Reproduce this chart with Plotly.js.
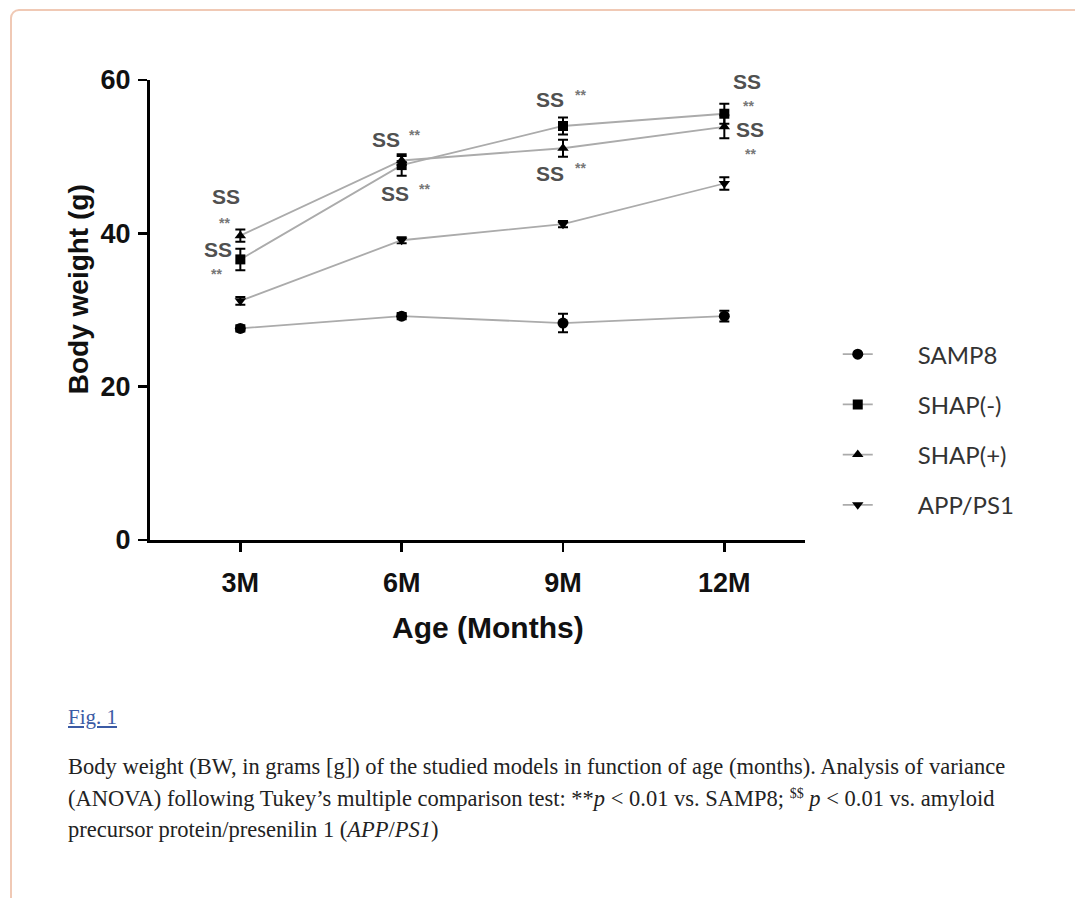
<!DOCTYPE html>
<html>
<head>
<meta charset="utf-8">
<script src="https://cdn.plot.ly/plotly-3.0.1.min.js"></script>
<style>
  html, body { margin: 0; padding: 0; background: #fff; width: 1075px; height: 898px; overflow: hidden; }
  #frame { position: absolute; left: 10px; top: 9px; width: 1100px; height: 1000px;
           border: 2px solid #f0c9b5; border-radius: 9px; box-sizing: border-box; }
  #chart { position: absolute; left: 0; top: 0; width: 1075px; height: 690px; }
  #figlink { position: absolute; left: 68px; top: 705px; font-family: "Liberation Serif", serif;
             font-size: 21px; color: #3b5ba5; text-decoration: underline; }
  #caption { position: absolute; left: 68px; top: 751px; font-family: "Liberation Serif", serif;
             font-size: 22.5px; line-height: 31.5px; color: #222; white-space: nowrap; }
  sup { font-size: 14px; line-height: 0; }
</style>
</head>
<body>
<div id="frame"></div>
<div id="chart"></div>
<div id="figlink">Fig. 1</div>
<div id="caption">Body weight (BW, in grams [g]) of the studied models in function of age (months). Analysis of variance<br>(ANOVA) following Tukey’s multiple comparison test: **<i>p</i> &lt; 0.01 vs. SAMP8; <sup>$$</sup> <i>p</i> &lt; 0.01 vs. amyloid<br>precursor protein/presenilin 1 (<i>APP</i>/<i>PS1</i>)</div>
<script>
// ---- data ----
const categories = ['3M', '6M', '9M', '12M'];
const seriesNames = ['SAMP8', 'SHAP(-)', 'SHAP(+)', 'APP/PS1'];
const samp8    = [27.6, 29.2, 28.3, 29.2];
const samp8Err = [0.4, 0.4, 1.2, 0.7];
const shapNeg    = [36.6, 48.9, 54.0, 55.6];
const shapNegErr = [1.4, 1.4, 1.1, 1.3];
const shapPos    = [39.7, 49.5, 51.1, 53.9];
const shapPosErr = [0.8, 0.6, 1.1, 1.5];
const appPs1    = [31.2, 39.1, 41.2, 46.5];
const appPs1Err = [0.5, 0.4, 0.4, 0.8];
const yTicks = [0, 20, 40, 60];
const sigLabels = ['SS', '**', 'SS', '**',  'SS', '**', 'SS', '**',  'SS', '**', 'SS', '**',  'SS', '**', 'SS', '**'];

// ---- styling ----
const symbols = ['circle', 'square', 'triangle-up', 'triangle-down'];
const values = [samp8, shapNeg, shapPos, appPs1];
const errs = [samp8Err, shapNegErr, shapPosErr, appPs1Err];

const traces = values.map((v, i) => ({
  type: 'scatter',
  mode: 'lines+markers',
  name: seriesNames[i],
  legendgroup: 'g' + i,
  x: categories,
  y: v,
  line: { color: '#ababab', width: 1.8 },
  marker: { symbol: symbols[i], color: '#000', size: i === 0 ? 11 : 10 },
  error_y: { type: 'data', array: errs[i], visible: true, color: '#000', thickness: 2, width: 5 }
}));

// annotation placements (layout only)
const sigPos = [
  [-0.09, 44.8], [-0.10, 41.4], [-0.14, 37.9], [-0.15, 34.7],
  [0.90, 52.2], [1.08, 52.8], [0.96, 45.2], [1.14, 45.8],
  [1.92, 57.4], [2.11, 58.1], [1.92, 47.8], [2.11, 48.5],
  [3.14, 59.8], [3.15, 56.6], [3.16, 53.5], [3.16, 50.3]
];
const annotations = sigLabels.map((t, i) => ({
  x: sigPos[i][0], y: sigPos[i][1], xref: 'x', yref: 'y',
  text: t, showarrow: false,
  font: t === 'SS'
    ? { family: 'Liberation Sans, Arial, sans-serif', size: 21, color: '#505050', weight: 'bold' }
    : { family: 'Liberation Sans, Arial, sans-serif', size: 14, color: '#777', weight: 'bold' }
}));

const tickFont = { family: 'Liberation Sans, Arial, sans-serif', size: 27, color: '#111', weight: 'bold' };

// axis titles drawn as annotations (positioned as in the figure)
annotations.push({
  xref: 'paper', yref: 'paper', x: -0.11, y: 0.545, xanchor: 'center', yanchor: 'middle',
  text: 'Body weight (g)', textangle: -90, showarrow: false,
  font: { family: 'Liberation Sans, Arial, sans-serif', size: 28, color: '#111', weight: 'bold' }
});
annotations.push({
  xref: 'paper', yref: 'paper', x: 0.516, y: -0.191, xanchor: 'center', yanchor: 'middle',
  text: 'Age (Months)', showarrow: false,
  font: { family: 'Liberation Sans, Arial, sans-serif', size: 30, color: '#111', weight: 'bold' }
});

const layout = {
  width: 1075, height: 690,
  margin: { l: 150, r: 270, t: 80, b: 150 },
  paper_bgcolor: 'rgba(0,0,0,0)',
  plot_bgcolor: 'rgba(0,0,0,0)',
  showlegend: true,
  legend: {
    x: 1.05, y: 0.452, xanchor: 'left', yanchor: 'top',
    font: { family: 'Lato, Noto Sans, sans-serif', size: 24, color: '#333' },
    tracegroupgap: 16, itemwidth: 70, bgcolor: 'rgba(0,0,0,0)'
  },
  xaxis: {
    type: 'category', range: [-0.56, 3.5],
    showline: true, linecolor: '#000', linewidth: 3,
    ticks: 'outside', ticklen: 9, tickwidth: 2.5, tickcolor: '#000',
    showgrid: false, zeroline: false,
    tickfont: tickFont, ticklabelstandoff: 8
  },
  yaxis: {
    range: [0, 60], tickvals: yTicks,
    showline: true, linecolor: '#000', linewidth: 3,
    ticks: 'outside', ticklen: 9, tickwidth: 2.5, tickcolor: '#000',
    showgrid: false, zeroline: false,
    tickfont: tickFont, ticklabelstandoff: 2
  },
  annotations: annotations
};

Plotly.newPlot('chart', traces, layout, { displayModeBar: false, staticPlot: true }).then(gd => {
  // short legend line sample with the symbol centred on it, text further right
  gd.querySelectorAll('.legend .legendlines path').forEach(p => p.setAttribute('d', 'M5,0h30'));
  gd.querySelectorAll('.legend .legendpoints path').forEach(p => p.setAttribute('transform', 'translate(20,0)'));
});
</script>
</body>
</html>
